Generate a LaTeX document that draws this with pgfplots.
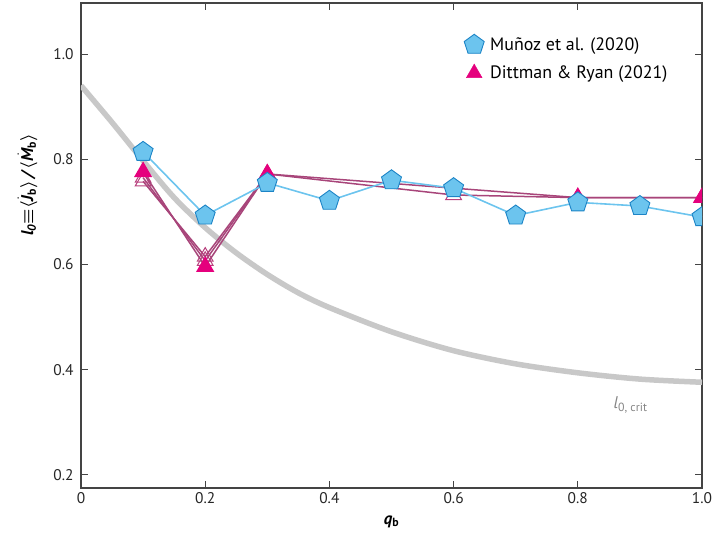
\documentclass[border=0pt]{standalone}
\usepackage{amsmath}
\usepackage{fontspec}
\setmainfont{PT Sans}
\usepackage{pgfplots}
\pgfplotsset{compat=1.18}
\usetikzlibrary{plotmarks}

\definecolor{bline}{HTML}{6CC4EE}
\definecolor{pfill}{HTML}{6CC4EE}
\definecolor{pdraw}{HTML}{1C84C6}
\definecolor{tfill}{HTML}{E5007D}
\definecolor{mline}{HTML}{A8457A}
\definecolor{tdraw}{HTML}{B8417E}
\definecolor{curvegray}{HTML}{C8C8C8}
\definecolor{labgray}{HTML}{858585}
\definecolor{axgray}{HTML}{444444}

% bold italic letter with a dot above
\newcommand{\dotl}[1]{$\dot{\text{\bfseries\itshape #1}}$}

\begin{document}
\begin{tikzpicture}
\begin{axis}[
  scale only axis, width=621bp, height=485bp,
  xmin=0, xmax=1, ymin=0.175, ymax=1.097,
  xtick={0,0.2,0.4,0.6,0.8,1.0},
  xticklabels={0,0.2,0.4,0.6,0.8,1.0},
  ytick={0.2,0.4,0.6,0.8,1.0},
  yticklabels={0.2,0.4,0.6,0.8,1.0},
  tick align=inside, major tick length=7bp,
  axis line style={draw=axgray, line width=1.2bp},
  tick style={draw=axgray, line width=0.9bp},
  ticklabel style={font=\fontsize{15.5}{18}\selectfont, text=black!85},
  yticklabel style={xshift=-4bp},
  xticklabel style={yshift=-1bp},
  xlabel={\bfseries\itshape q\textsubscript{\upshape b}},
  ylabel={\bfseries\itshape l\textsubscript{0}$\boldsymbol{\equiv}$$\boldsymbol{\langle}$\dotl{J}\textsubscript{\upshape b}$\boldsymbol{\rangle}$\,/\,$\boldsymbol{\langle}$\dotl{M}\textsubscript{\upshape b}$\boldsymbol{\rangle}$},
  label style={font=\fontsize{17}{20}\selectfont},
  ylabel style={at={(ticklabel cs:0.625)}, yshift=9bp},
  xlabel style={yshift=-5bp},
  clip marker paths=true,
  legend style={at={(0.612,0.94)}, anchor=north west, draw=none, fill=none,
    font=\fontsize{18}{21}\selectfont, row sep=10bp,
    /tikz/every odd column/.append style={column sep=4bp}},
  legend cell align=left,
]
\addlegendimage{only marks, mark=pentagon*, mark size=10.5bp,
  mark options={fill=pfill, draw=pdraw, line width=0.9bp}}
\addlegendentry{Muñoz et al. (2020)}
\addlegendimage{only marks, mark=triangle*, mark size=9bp,
  mark options={fill=tfill, draw=tfill}}
\addlegendentry{Dittman \& Ryan (2021)}

% critical value l_0,crit
\addplot[forget plot, smooth, draw=curvegray, line width=5.5bp] coordinates {
  (0,0.940) (0.05,0.870) (0.1,0.797) (0.15,0.727) (0.2,0.670)
  (0.25,0.622) (0.3,0.581) (0.35,0.546) (0.4,0.518) (0.5,0.472)
  (0.6,0.436) (0.7,0.411) (0.8,0.394) (0.9,0.382) (1.0,0.376)};

% Dittman & Ryan runs
\addplot[forget plot, draw=mline, line width=1.5bp, mark=triangle, mark size=9bp,
  mark options={draw=tdraw, fill=white, line width=1bp}] coordinates {
  (0.1,0.758) (0.2,0.615) (0.3,0.772) (0.6,0.732) (0.8,0.727) (1.0,0.727)};
\addplot[forget plot, draw=mline, line width=1.5bp, mark=triangle, mark size=9bp,
  mark options={draw=tdraw, fill=white, line width=1bp}] coordinates {
  (0.1,0.765) (0.2,0.607) (0.3,0.772)};
\addplot[forget plot, draw=mline, line width=1.5bp, mark=triangle*, mark size=9bp,
  mark options={draw=tfill, fill=tfill}] coordinates {
  (0.1,0.776) (0.2,0.596) (0.3,0.772) (0.8,0.727) (1.0,0.727)};

% Munoz et al.
\addplot[forget plot, draw=bline, line width=1.6bp, mark=pentagon*, mark size=10.5bp,
  mark options={fill=pfill, draw=pdraw, line width=0.9bp}] coordinates {
  (0.1,0.814) (0.2,0.693) (0.3,0.755) (0.4,0.721) (0.5,0.760)
  (0.6,0.745) (0.7,0.693) (0.8,0.718) (0.9,0.711) (1.0,0.690)};

\node[text=labgray, font=\fontsize{17}{20}\selectfont] at (axis cs:0.885,0.333)
  {\textit{l}\textsubscript{0, crit}};
\end{axis}
\pgfresetboundingbox
\path ([xshift=-81bp,yshift=-53bp]current axis.south west)
  rectangle ([xshift=16bp,yshift=3bp]current axis.north east);
\end{tikzpicture}
\end{document}
